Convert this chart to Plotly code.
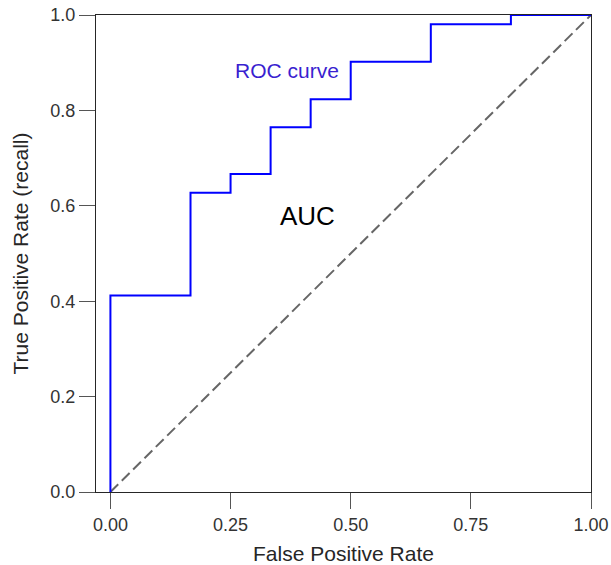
import plotly.graph_objects as go

fpr = [0.0, 0.0, 1/6, 0.25, 1/3, 5/12, 0.5, 2/3, 5/6, 1.0]
tpr = [0.0, 21/51, 32/51, 34/51, 39/51, 42/51, 46/51, 50/51, 1.0, 1.0]
diag = [0.0, 1.0]
x_ticks = [0.0, 0.25, 0.5, 0.75, 1.0]
x_ticklabels = ["0.00", "0.25", "0.50", "0.75", "1.00"]
y_ticks = [0.0, 0.2, 0.4, 0.6, 0.8, 1.0]
y_ticklabels = ["0.0", "0.2", "0.4", "0.6", "0.8", "1.0"]

FONT = "Liberation Sans, Arial"

fig = go.Figure()
fig.add_trace(go.Scatter(x=diag, y=diag, mode="lines",
                         line=dict(color="#666666", width=2, dash="11px,5px"),
                         showlegend=False, hoverinfo="skip"))
fig.add_trace(go.Scatter(x=fpr, y=tpr, mode="lines", line_shape="hv",
                         line=dict(color="#0000ff", width=2),
                         showlegend=False))

fig.add_annotation(x=0.368, y=0.883, text="ROC curve", showarrow=False,
                   font=dict(size=21, color="#3a1fd0", family=FONT))
fig.add_annotation(x=0.41, y=0.579, text="AUC", showarrow=False,
                   font=dict(size=26, color="#000000", family=FONT))

axis_common = dict(showline=True, linecolor="#262626", linewidth=1.3, mirror=True,
                   ticks="outside", ticklen=16, tickwidth=1.3, tickcolor="#555555",
                   showgrid=False, zeroline=False, automargin=False,
                   tickfont=dict(size=18, color="#333333", family=FONT))

fig.update_layout(
    width=611, height=565,
    margin=dict(l=96, r=20, t=15, b=73),
    plot_bgcolor="white", paper_bgcolor="white",
    xaxis=dict(range=[-0.03, 1.0], tickvals=x_ticks, ticktext=x_ticklabels,
               title=dict(text="False Positive Rate",
                          font=dict(size=21, color="#262626", family=FONT)),
               **axis_common),
    yaxis=dict(range=[0, 1.0], tickvals=y_ticks, ticktext=y_ticklabels,
               title=dict(text="True Positive Rate (recall)",
                          font=dict(size=21, color="#262626", family=FONT)),
               **axis_common),
)

fig.write_html("out.html")
